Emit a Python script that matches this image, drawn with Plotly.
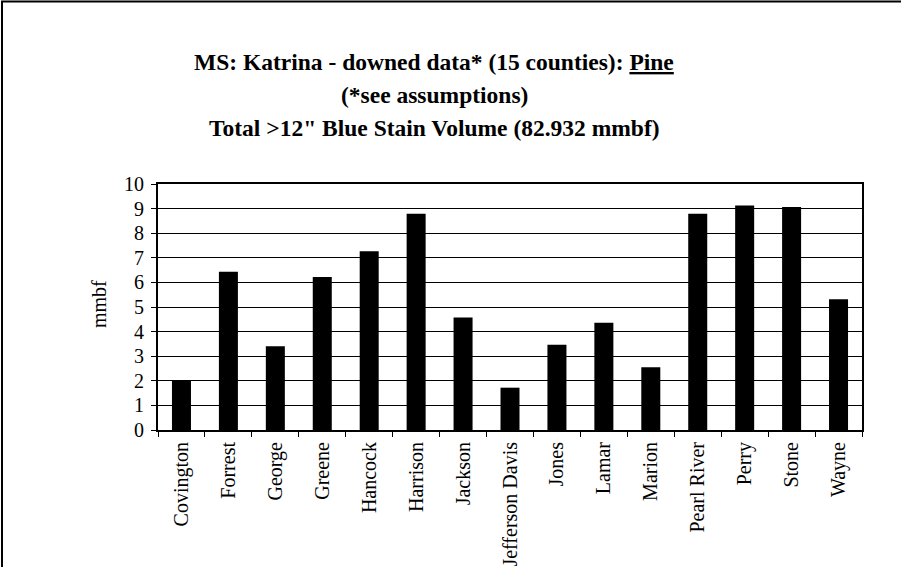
import plotly.graph_objects as go

counties = ["Covington", "Forrest", "George", "Greene", "Hancock", "Harrison",
            "Jackson", "Jefferson Davis", "Jones", "Lamar", "Marion",
            "Pearl River", "Perry", "Stone", "Wayne"]
volume_mmbf = [2.01, 6.43, 3.40, 6.22, 7.27, 8.79, 4.57, 1.72, 3.47, 4.36,
               2.55, 8.79, 9.13, 9.06, 5.32]

title_lines = [
    "MS: Katrina - downed data* (15 counties): <u>Pine</u>",
    "(*see assumptions)",
    "Total >12\" Blue Stain Volume (82.932 mmbf)",
]
y_title = "mmbf"

FONT = "Liberation Serif, serif"

# plot area in pixels
L, R, T, B = 158, 862, 184, 430
W, H = 901, 567
pw, ph = R - L, B - T

def px_x(x):
    return (x - L) / pw

def px_y(y):
    return (B - y) / ph

fig = go.Figure(go.Bar(
    x=counties, y=volume_mmbf,
    marker=dict(color="black", line=dict(width=0)),
    width=0.405,
))

annotations = []
for line, ypos in zip(title_lines, [62, 95, 128]):
    annotations.append(dict(
        text=line, xref="paper", yref="paper",
        x=px_x(434), y=px_y(ypos),
        xanchor="center", yanchor="middle", showarrow=False,
        font=dict(family=FONT, size=23.5, color="black", weight="bold"),
    ))
annotations.append(dict(
    text=y_title, xref="paper", yref="paper", x=px_x(99), y=px_y(304),
    xanchor="center", yanchor="middle", showarrow=False, textangle=-90,
    font=dict(family=FONT, size=20, color="black"),
))

fig.update_layout(
    width=W, height=H,
    margin=dict(l=L, r=W - R, t=T, b=H - B, pad=0, autoexpand=False),
    paper_bgcolor="white", plot_bgcolor="white",
    showlegend=False,
    annotations=annotations,
    shapes=[dict(type="rect", xref="paper", yref="paper",
                 x0=px_x(2), x1=px_x(940), y0=px_y(640), y1=px_y(1.5),
                 line=dict(color="black", width=2), layer="below")],
    xaxis=dict(
        type="category", tickson="boundaries", ticks="outside", ticklen=5,
        tickcolor="black", tickwidth=1, tickangle=-90, automargin=False,
        showline=True, linecolor="black", linewidth=2, mirror=True,
        showgrid=False, ticklabelstandoff=2,
        tickfont=dict(family=FONT, size=20, color="black"),
    ),
    yaxis=dict(
        range=[0, 10], dtick=1, ticks="outside", ticklen=5, automargin=False,
        tickcolor="black", tickwidth=1, ticklabelstandoff=3,
        showline=True, linecolor="black", linewidth=2, mirror=True,
        showgrid=True, gridcolor="black", gridwidth=1, zeroline=False,
        tickfont=dict(family=FONT, size=20, color="black"),
    ),
)

fig.write_html("out.html", config={"displayModeBar": False},
               post_script="document.body.style.margin='0';document.body.style.overflow='hidden';")
